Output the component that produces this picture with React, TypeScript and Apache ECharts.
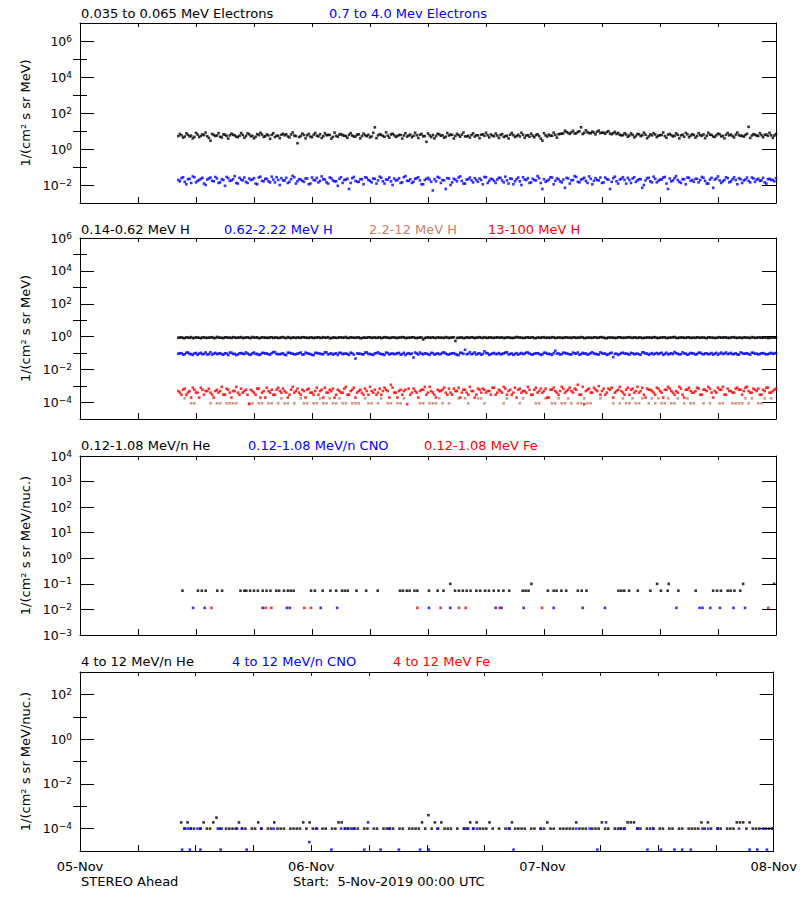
import React, { useEffect, useRef } from 'react';
import * as echarts from 'echarts';

const _ = null;

// ---- time axis (hours since 05-Nov-2019 00:00 UTC) ----
const dayLabels = ['05-Nov', '06-Nov', '07-Nov', '08-Nov'];
const gridStartHour = 10 + 10 / 60; // first sample of the regular series
const gridStepHour = 1 / 3;          // 20 minutes between samples of one half
// dense series are 10-minute data, stored as two interleaved halves:
// "A" samples at hh:10/:30/:50, "B" samples 10 minutes later.

// ---- panel 1: electrons ----
const elecLowA = [
  5.2, 5.8, 4.9, 6.1, 5.5, 4.7, 6.3, 5.4, 5.9, 5.1, 2.9, 6.0, 5.6, 4.8, 6.4, 5.3, 5.7, 6.2, 4.9, 5.5,
  6.0, 5.2, 6.6, 5.4, 4.8, 5.9, 6.3, 5.1, 5.7, 6.1, 4.6, 5.5, 6.2, 5.8, 5.0, 6.4, 5.6, 2.1, 5.3, 6.0,
  5.7, 4.9, 6.2, 5.5, 6.6, 5.1, 5.8, 6.0, 4.7, 5.4, 6.3, 5.9, 5.2, 6.1, 5.6, 4.9, 6.5, 5.3, 5.8, 6.2,
  5.0, 16, 5.7, 6.1, 4.8, 5.5, 6.4, 5.9, 5.2, 6.0, 5.6, 4.9, 6.3, 5.4, 5.8, 6.2, 5.1, 2.5, 5.7, 6.0,
  5.3, 6.5, 5.8, 4.8, 5.6, 6.1, 5.2, 5.9, 6.3, 5.0, 5.5, 6.0, 4.9, 5.7, 6.2, 5.4, 5.8, 6.4, 5.1, 5.6,
  6.0, 4.7, 5.5, 6.2, 5.9, 5.3, 5.0, 6.1, 5.6, 4.8, 5.4, 6.0, 5.2, 2.9, 5.7, 6.3, 5.5, 6.1, 6.6, 7.0,
  10.4, 7.8, 8.4, 7.3, 8.9, 16, 7.9, 8.6, 7.5, 8.2, 9.1, 7.7, 8.0, 8.8, 7.2, 7.6, 6.8, 6.2, 5.9, 6.4,
  5.6, 6.1, 5.3, 6.6, 5.8, 6.2, 5.0, 5.7, 6.4, 5.5, 6.0, 5.2, 6.3, 5.9, 5.4, 6.1, 5.7, 4.8, 6.5, 5.6,
  6.0, 5.3, 5.9, 6.4, 5.5, 6.2, 4.9, 5.8, 6.6, 5.4, 6.1, 5.7, 5.2, 6.3, 5.9, 5.5, 6.0, 17, 5.6, 6.2,
  5.3, 5.9, 6.1, 5.4, 5.8, 5.6,
];
const elecLowB = [
  6.8, 4.3, 7.4, 5.0, 3.9, 7.9, 4.6, 6.5, 8.2, 4.1, 6.9, 5.3, 7.6, 4.4, 6.2, 3.8, 7.1, 5.7, 4.5, 7.7,
  4.2, 7.3, 5.1, 3.9, 6.8, 8.0, 4.7, 6.4, 3.7, 7.5, 5.4, 4.0, 7.0, 6.6, 4.4, 8.3, 5.2, 4.6, 7.2, 3.9,
  6.9, 4.5, 7.8, 5.0, 4.1, 7.4, 6.1, 3.8, 8.1, 4.8, 6.7, 5.5, 4.2, 7.6, 4.9, 6.3, 3.9, 7.2, 5.1, 4.4,
  7.9, 4.0, 6.6, 5.3, 8.4, 4.3, 7.1, 4.7, 6.0, 3.8, 7.5, 5.6, 4.5, 8.0, 4.1, 6.8, 5.2, 7.3, 4.6, 3.9,
  7.0, 5.4, 4.2, 7.7, 6.3, 3.8, 6.9, 4.8, 8.2, 5.0, 4.3, 7.4, 5.8, 4.0, 6.5, 7.9, 4.4, 5.6, 7.2, 4.1,
  6.7, 5.1, 3.9, 7.8, 4.6, 6.2, 8.0, 4.2, 5.9, 7.1, 4.5, 6.6, 3.8, 7.5, 4.9, 5.5, 8.1, 4.3, 6.9, 7.4,
  8.8, 6.9, 10.2, 7.4, 9.6, 6.8, 11.0, 7.7, 9.3, 6.5, 10.5, 8.1, 7.0, 9.8, 6.6, 8.9, 7.8, 5.7, 7.5, 4.8,
  7.3, 4.4, 6.8, 5.2, 8.1, 4.0, 6.5, 7.6, 4.6, 5.9, 8.3, 4.2, 6.9, 5.0, 7.4, 3.9, 6.2, 7.8, 4.5, 6.6,
  4.3, 7.5, 5.4, 4.0, 8.0, 6.1, 4.7, 7.2, 5.0, 3.9, 7.7, 6.4, 4.4, 8.2, 5.3, 4.8, 7.0, 4.1, 6.7, 5.5,
  7.6, 4.5, 6.3, 7.9, 4.2, 6.8,
];
const elecHighA = [
  .019, .024, .015, .021, .013, .027, .017, .022, .012, .020, .026, .016, .023, .014, .019, .028, .017, .021, .013, .025,
  .018, .015, .023, .020, .012, .026, .017, .022, .016, .029, .014, .019, .024, .018, .013, .021, .027, .016, .020, .015,
  .023, .012, .019, .025, .017, .021, .014, .026, .018, .016, .022, .013, .020, .006, .024, .017, .015, .021, .027, .019,
  .014, .022, .018, .025, .012, .020, .016, .023, .019, .013, .027, .017, .021, .015, .024, .018, .011, .022, .020, .005,
  .016, .025, .019, .006, .023, .014, .020, .026, .017, .012, .021, .018, .024, .015, .019, .028, .013, .022, .017, .020,
  .025, .014, .018, .023, .011, .021, .016, .027, .019, .013, .022, .018, .024, .006, .015, .020, .026, .017, .021, .014,
  .007, .023, .018, .031, .015, .020, .025, .013, .022, .017, .019, .026, .014, .021, .006, .024, .016, .020, .027, .012,
  .019, .023, .015, .021, .007, .018, .025, .014, .022, .017, .020, .028, .006, .016, .024, .019, .013, .021, .026, .017,
  .015, .022, .019, .025, .012, .020, .007, .023, .018, .016, .027, .014, .021, .019, .024, .013, .020, .017, .026, .015,
  .022, .018, .014, .021, .019, .016,
];
const elecHighB = [
  .016, .027, .011, .022, .030, .014, .019, .025, .010, .023, .017, .028, .013, .021, .009, .024, .018, .031, .012, .020,
  .026, .013, .019, .024, .011, .029, .016, .022, .014, .020, .027, .010, .018, .025, .015, .032, .012, .021, .017, .023,
  .011, .026, .018, .014, .030, .020, .012, .024, .016, .009, .027, .019, .022, .013, .028, .015, .021, .011, .025, .017,
  .023, .012, .029, .016, .020, .026, .010, .018, .024, .014, .031, .017, .013, .022, .027, .011, .019, .025, .015, .021,
  .028, .013, .018, .024, .010, .022, .016, .030, .012, .020, .026, .014, .019, .023, .011, .027, .017, .021, .013, .025,
  .018, .029, .012, .022, .016, .026, .010, .020, .024, .014, .019, .031, .013, .021, .017, .027, .011, .023, .016, .020,
  .025, .012, .019, .028, .014, .022, .017, .030, .011, .024, .018, .013, .026, .020, .015, .029, .012, .022, .019, .025,
  .013, .027, .018, .021, .010, .024, .016, .029, .014, .020, .026, .012, .023, .018, .031, .015, .021, .011, .025, .019,
  .022, .014, .028, .017, .012, .025, .020, .030, .013, .019, .024, .016, .027, .011, .021, .018, .026, .014, .023, .020,
  .017, .025, .012, .022, .019, .024,
];

// ---- panel 2: protons ----
const hLowA = [
  .87, .92, .83, .89, .95, .85, .88, .81, .93, .86, .90, .84, .97, .87, .82, .91, .88, .94, .85, .89,
  .83, .90, .86, .96, .88, .81, .92, .87, .85, .93, .89, .84, .91, .86, .95, .82, .88, .90, .85, .93,
  .87, .91, .83, .89, .86, .94, .88, .82, .90, .85, .92, .87, .96, .84, .89, .86, .91, .83, .88, .93,
  .85, .90, .87, .82, .94, .88, .86, .91, .84, .89, .92, .85, .87, .93, .83, .90, .68, .88, .86, .92,
  .84, .89, .87, .95, .83, .90, .55, .86, .91, .85, .88, .93, .82, .89, .87, .94, .84, .90, .86, .92,
  .88, .83, .91, .87, .85, .96, .89, .84, .90, .86, .93, .82, .88, .91, .85, .87, .94, .83, .89, .86,
  .92, .87, .84, .90, .88, .95, .83, .89, .86, .91, .85, .93, .87, .82, .90, .88, .84, .92, .86, .89,
  .94, .85, .88, .91, .83, .87, .90, .86, .93, .84, .89, .92, .85, .88, .96, .83, .90, .87, .91, .84,
  .88, .93, .86, .89, .82, .91, .87, .85, .94, .88, .90, .84, .92, .86, .89, .83, .91, .87, .95, .85,
  .89, .86, .92, .84, .90, .88,
];
const hLowB = [
  .89, .84, .91, .86, .82, .93, .87, .90, .85, .88, .94, .83, .89, .86, .92, .87, .84, .90, .88, .95,
  .86, .91, .83, .88, .93, .85, .89, .87, .92, .84, .90, .86, .95, .82, .88, .91, .85, .89, .93, .87,
  .84, .90, .88, .92, .85, .87, .94, .83, .89, .86, .91, .88, .84, .93, .87, .90, .82, .89, .86, .92,
  .88, .85, .93, .87, .90, .84, .91, .86, .89, .95, .83, .88, .92, .85, .87, .90, .84, .93, .88, .86,
  .91, .87, .84, .90, .88, .93, .85, .89, .82, .92, .86, .90, .88, .94, .84, .87, .91, .85, .89, .87,
  .93, .86, .90, .84, .88, .91, .87, .85, .92, .89, .83, .90, .86, .94, .88, .85, .91, .87, .89, .84,
  .90, .88, .93, .85, .87, .91, .84, .89, .86, .92, .88, .95, .83, .90, .87, .85, .93, .88, .86, .91,
  .87, .92, .84, .89, .86, .90, .88, .94, .85, .87, .91, .83, .89, .93, .86, .88, .90, .85, .92, .87,
  .85, .89, .91, .86, .93, .88, .84, .90, .87, .92, .86, .89, .94, .85, .88, .91, .87, .83, .90, .88,
  .92, .87, .89, .85, .91, .88,
];
const hMidA = [
  .092, .10, .085, .11, .088, .097, .079, .105, .091, .083, .115, .094, .087, .10, .081, .096, .108, .089, .076, .099,
  .093, .112, .084, .098, .090, .078, .104, .095, .086, .101, .117, .088, .092, .080, .107, .097, .085, .094, .11, .083,
  .099, .089, .076, .103, .094, .087, .112, .091, .082, .098, .106, .088, .095, .079, .10, .047, .093, .086, .109, .090,
  .084, .097, .113, .089, .078, .102, .093, .087, .099, .081, .105, .092, .088, .055, .096, .11, .085, .094, .08, .101,
  .091, .087, .107, .095, .083, .099, .089, .076, .104, .16, .092, .086, .111, .094, .081, .13, .098, .088, .103, .090,
  .085, .096, .114, .089, .078, .101, .093, .087, .108, .095, .082, .099, .091, .086, .106, .092, .079, .14, .097, .088,
  .103, .091, .084, .098, .11, .089, .094, .081, .102, .096, .087, .113, .092, .079, .100, .058, .093, .088, .107, .095,
  .082, .098, .091, .086, .112, .094, .080, .101, .093, .088, .106, .090, .084, .099, .117, .092, .087, .096, .079, .103,
  .094, .089, .108, .085, .097, .091, .082, .104, .095, .088, .11, .093, .086, .099, .081, .102, .094, .089, .107, .091,
  .085, .098, .092, .087, .104, .095,
];
const hMidB = [
  .098, .083, .107, .090, .078, .102, .094, .086, .111, .089, .081, .104, .095, .087, .099, .076, .108, .092, .085, .101,
  .088, .096, .079, .110, .091, .084, .103, .097, .082, .114, .090, .086, .100, .077, .106, .093, .088, .098, .083, .109,
  .092, .080, .105, .096, .087, .112, .084, .099, .091, .078, .103, .094, .089, .107, .081, .097, .093, .085, .111, .090,
  .079, .101, .094, .086, .108, .083, .096, .091, .104, .088, .077, .100, .095, .110, .084, .092, .099, .087, .105, .082,
  .097, .089, .112, .085, .093, .100, .080, .106, .091, .087, .115, .094, .083, .098, .090, .104, .079, .096, .088, .102,
  .091, .108, .084, .097, .089, .081, .103, .095, .110, .086, .093, .099, .078, .105, .090, .087, .101, .094, .083, .107,
  .096, .085, .109, .092, .080, .104, .097, .088, .113, .090, .083, .100, .095, .086, .106, .091, .079, .102, .094, .089,
  .105, .087, .094, .081, .110, .096, .090, .085, .103, .098, .079, .107, .092, .088, .101, .084, .113, .095, .089, .099,
  .083, .106, .091, .097, .086, .102, .093, .080, .109, .095, .088, .104, .090, .085, .111, .092, .098, .082, .105, .094,
  .089, .101, .086, .096, .092, .103,
];
const hMid2 = [
  _, _, 1.8e-4, _, 9e-5, 9e-5, _, _, _, _,
  9e-5, _, 9e-5, 9e-5, _, 9e-5, 9e-5, 9e-5, 9e-5, _,
  _, _, 9e-5, 9e-5, _, 9e-5, 9e-5, _, 9e-5, 9e-5,
  _, 9e-5, 1.8e-4, 9e-5, 9e-5, _, 9e-5, _, 1.8e-4, 9e-5,
  9e-5, _, 9e-5, 9e-5, 1.8e-4, 9e-5, 9e-5, 1.8e-4, 9e-5, 9e-5,
  1.8e-4, 9e-5, 9e-5, _, 9e-5, 9e-5, 9e-5, _, 1.8e-4, 9e-5,
  9e-5, _, 9e-5, 1.8e-4, _, 9e-5, 9e-5, _, 9e-5, 9e-5,
  1.8e-4, _, _, _, _, 9e-5, 9e-5, _, 9e-5, 9e-5,
  9e-5, 1.8e-4, 9e-5, _, 9e-5, _, _, 1.8e-4, _, 1.8e-4,
  9e-5, _, _, 1.8e-4, 1.8e-4, 9e-5, _, _, _, _,
  _, 9e-5, 1.8e-4, _, _, _, 9e-5, 1.8e-4, _, _,
  _, 9e-5, 9e-5, _, 1.8e-4, _, 9e-5, 9e-5, 1.8e-4, 9e-5,
  9e-5, 1.8e-4, 9e-5, _, 9e-5, 9e-5, 1.8e-4, 9e-5, 9e-5, _,
  _, 1.8e-4, _, _, _, 9e-5, _, 9e-5, 1.8e-4, 9e-5,
  9e-5, 1.8e-4, 9e-5, 9e-5, 1.8e-4, _, 9e-5, 1.8e-4, 9e-5, 1.8e-4,
  9e-5, 9e-5, 1.8e-4, 9e-5, 9e-5, 1.8e-4, _, 9e-5, 1.8e-4, 9e-5,
  9e-5, _, _, 9e-5, _, 9e-5, _, _, 9e-5, 9e-5,
  _, _, 9e-5, 9e-5, 9e-5, 9e-5, 1.8e-4, 9e-5, 1.8e-4, _,
  9e-5, 9e-5, 1.8e-4, _, 1.8e-4, _,
];
const hHighA = [
  5e-4, 3e-4, 7e-4, 4e-4, 2e-4, 6e-4, 4e-4, 8e-4, 3e-4, 5e-4, 4e-4, 2e-4, 6e-4, 5e-4, 3e-4, 7e-4, 4e-4, 5e-4, 9e-4, 3e-4,
  4e-4, 6e-4, 8e-5, 5e-4, 3e-4, 7e-4, 4e-4, 2e-4, 5e-4, 6e-4, 3e-4, 8e-4, 4e-4, 5e-4, 2e-4, 6e-4, 4e-4, 7e-4, 3e-4, 5e-4,
  6e-4, 4e-4, 3e-4, 8e-4, 5e-4, 2e-4, 4e-4, 6e-4, 7e-4, 3e-4, 5e-4, 4e-4, 9e-4, 3e-4, 6e-4, 2e-4, 5e-4, 4e-4, 7e-4, 3e-4,
  5e-4, 6e-4, 4e-4, 3e-4, 8e-4, 5e-4, 1.2e-3, 4e-4, 2e-4, 6e-4, 5e-4, 8e-5, 3e-4, 7e-4, 4e-4, 5e-4, 6e-4, 3e-4, 9e-4, 4e-4,
  2e-4, 5e-4, 6e-4, 4e-4, 7e-4, 3e-4, 5e-4, 8e-4, 4e-4, 6e-4, 3e-4, 5e-4, 2e-4, 7e-4, 4e-4, 6e-4, 5e-4, 3e-4, 8e-4, 4e-4,
  5e-4, 9e-4, 3e-4, 6e-4, 4e-4, 2e-4, 7e-4, 5e-4, 4e-4, 6e-4, 3e-4, 8e-4, 5e-4, 4e-4, 7e-4, 2e-4, 6e-4, 5e-4, 3e-4, 9e-4,
  4e-4, 6e-4, 5e-4, 7e-4, 1.2e-3, 3e-4, 8e-5, 6e-4, 4e-4, 8e-4, 5e-4, 3e-4, 7e-4, 4e-4, 6e-4, 2e-4, 5e-4, 9e-4, 4e-4, 6e-4,
  3e-4, 7e-4, 5e-4, 4e-4, 8e-4, 2e-4, 6e-4, 5e-4, 3e-4, 7e-4, 4e-4, 6e-4, 9e-4, 5e-4, 3e-4, 4e-4, 7e-4, 2e-4, 6e-4, 5e-4,
  4e-4, 8e-4, 3e-4, 6e-4, 5e-4, 7e-4, 2e-4, 4e-4, 6e-4, 9e-4, 3e-4, 5e-4, 4e-4, 7e-4, 6e-4, 3e-4, 8e-4, 5e-4, 4e-4, 6e-4,
  7e-4, 3e-4, 5e-4, 8e-4, 4e-4, 6e-4,
];
const hHighB = [
  4e-4, 6e-4, 3e-4, 5e-4, 8e-4, 4e-4, 2e-4, 6e-4, 5e-4, 7e-4, 3e-4, 5e-4, 4e-4, 9e-4, 3e-4, 6e-4, 2e-4, 5e-4, 4e-4, 7e-4,
  5e-4, 3e-4, 6e-4, 4e-4, 7e-4, 2e-4, 5e-4, 8e-4, 4e-4, 3e-4, 6e-4, 5e-4, 7e-4, 4e-4, 3e-4, 9e-4, 5e-4, 4e-4, 6e-4, 2e-4,
  7e-4, 4e-4, 5e-4, 3e-4, 6e-4, 8e-4, 4e-4, 5e-4, 2e-4, 6e-4, 4e-4, 7e-4, 3e-4, 5e-4, 8e-4, 4e-4, 6e-4, 3e-4, 5e-4, 9e-4,
  4e-4, 3e-4, 7e-4, 5e-4, 6e-4, 2e-4, 8e-4, 4e-4, 5e-4, 3e-4, 6e-4, 7e-4, 4e-4, 5e-4, 2e-4, 6e-4, 9e-4, 4e-4, 5e-4, 3e-4,
  6e-4, 5e-4, 8e-4, 3e-4, 4e-4, 7e-4, 5e-4, 2e-4, 6e-4, 4e-4, 9e-4, 5e-4, 3e-4, 6e-4, 7e-4, 4e-4, 5e-4, 8e-4, 3e-4, 6e-4,
  4e-4, 7e-4, 5e-4, 3e-4, 8e-4, 6e-4, 4e-4, 5e-4, 9e-4, 3e-4, 6e-4, 4e-4, 7e-4, 5e-4, 2e-4, 6e-4, 8e-4, 4e-4, 5e-4, 7e-4,
  5e-4, 8e-4, 4e-4, 6e-4, 3e-4, 9e-4, 5e-4, 7e-4, 4e-4, 6e-4, 1e-3, 5e-4, 3e-4, 7e-4, 8e-4, 4e-4, 6e-4, 5e-4, 3e-4, 8e-4,
  6e-4, 4e-4, 9e-4, 5e-4, 3e-4, 7e-4, 6e-4, 4e-4, 8e-4, 5e-4, 2e-4, 6e-4, 7e-4, 4e-4, 5e-4, 9e-4, 3e-4, 6e-4, 8e-4, 4e-4,
  5e-4, 7e-4, 3e-4, 6e-4, 9e-4, 4e-4, 5e-4, 8e-4, 6e-4, 3e-4, 7e-4, 5e-4, 4e-4, 8e-4, 6e-4, 5e-4, 9e-4, 4e-4, 7e-4, 5e-4,
  3e-4, 6e-4, 8e-4, 4e-4, 5e-4, 7e-4,
];

// ---- panel 3: 0.12-1.08 MeV/n heavy ions, [hour, value] ----
const heLow = [
  [10.6, .054], [12.2, .054], [12.6, .054], [13.0, .054], [14.2, .054], [14.7, .054],
  [16.6, .054], [17.0, .054], [17.2, .054], [17.6, .054], [18.0, .054], [18.4, .054], [18.9, .054],
  [19.3, .054], [19.7, .054], [20.3, .054], [20.6, .054], [21.1, .054], [21.5, .054], [21.8, .054], [22.1, .054],
  [23.9, .054], [24.3, .054], [25.1, .054], [25.9, .054], [26.5, .054], [27.1, .054], [27.4, .054], [27.7, .054],
  [28.6, .054], [29.6, .054], [30.8, .054], [33.1, .054], [33.4, .054], [33.8, .054], [34.1, .054], [34.6, .054],
  [34.9, .054], [36.1, .054], [37.0, .054], [37.6, .054], [38.3, .1], [38.8, .054], [39.2, .054], [39.6, .054],
  [40.0, .054], [40.4, .054], [41.0, .054], [41.4, .054], [41.9, .054], [42.3, .054], [42.8, .054], [43.3, .054],
  [43.8, .054], [44.4, .054], [45.8, .054], [46.1, .054], [46.4, .054], [46.7, .1], [48.4, .054], [49.0, .054],
  [49.3, .054], [49.8, .054], [50.3, .054], [51.5, .054], [51.9, .054], [52.4, .054], [55.7, .054], [56.0, .054],
  [56.3, .054], [56.8, .054], [57.7, .054], [59.0, .054], [59.7, .1], [60.1, .054], [60.8, .054], [60.9, .1],
  [61.9, .054], [63.7, .054], [65.5, .054], [65.9, .054], [66.3, .054], [67.0, .054], [67.3, .054], [67.7, .054],
  [68.3, .054], [68.6, .1], [71.8, .1],
];
const cnoLow = [
  [11.7, .0115], [12.9, .0115], [18.9, .0115], [21.4, .0115], [21.7, .0115], [24.9, .0115], [26.6, .0115],
  [36.1, .0115], [38.3, .0115], [43.0, .0115], [43.6, .0115], [45.9, .0115], [49.0, .0115], [52.0, .0115],
  [54.3, .0115], [61.7, .0115], [64.1, .0115], [64.4, .0115], [65.2, .0115], [66.2, .0115], [67.6, .0115], [68.8, .0115],
];
const feLow = [
  [13.6, .0115], [19.2, .0115], [19.8, .0115], [23.2, .0115], [23.9, .0115], [34.9, .0115],
  [37.3, .0115], [39.2, .0115], [39.9, .0115], [43.4, .0115], [47.8, .0115], [71.2, .0115],
];

// ---- panel 4: 4-12 MeV/n heavy ions ----
const heHigh = [
  _, 1.9e-4, 1e-4, 1.9e-4, 1e-4, 1e-4, _, 1e-4, 1.9e-4, 1e-4,
  1e-4, 1.9e-4, 3.1e-4, 1e-4, _, 1e-4, 1e-4, 1e-4, 1e-4, 1.9e-4,
  1e-4, 1e-4, _, 1e-4, 1e-4, 1.9e-4, 1e-4, _, 1e-4, 1e-4,
  1.9e-4, 1e-4, 1e-4, 1e-4, _, 1e-4, 1e-4, 1e-4, 1e-4, 1.9e-4,
  1e-4, 1.9e-4, 1e-4, 1e-4, _, 1e-4, 1e-4, _, 1e-4, 1e-4,
  1.9e-4, 1.9e-4, 1e-4, 1e-4, 1e-4, 1e-4, 1e-4, _, 1e-4, 1e-4,
  _, 1e-4, 1e-4, _, 1e-4, 1e-4, 1e-4, 1e-4, _, 1e-4,
  1e-4, _, 1e-4, 1e-4, 1e-4, 1e-4, 1.9e-4, 1e-4, 4e-4, 1e-4,
  1.9e-4, 1e-4, 1.9e-4, 1e-4, 1e-4, 1e-4, _, 1e-4, _, 1e-4,
  1e-4, 1.9e-4, 1e-4, 1.9e-4, 1e-4, 1e-4, 1e-4, 1.9e-4, 1e-4, _,
  1e-4, _, 1e-4, 1e-4, 1.9e-4, 1e-4, 1e-4, 1e-4, 1e-4, _,
  1e-4, 1e-4, _, 1e-4, 1e-4, 1.9e-4, 1e-4, 1e-4, _, 1e-4,
  1e-4, 1e-4, 1e-4, 1e-4, 1.9e-4, 1e-4, 1e-4, 1e-4, _, 1e-4,
  1e-4, 1e-4, 1.9e-4, 1e-4, 1e-4, _, 1e-4, 1e-4, 1e-4, 1e-4,
  1.9e-4, 1.9e-4, 1.9e-4, 1e-4, 1e-4, _, 1e-4, 1e-4, 1e-4, _,
  1e-4, 1e-4, _, 1e-4, 1e-4, _, 1e-4, 1e-4, _, 1e-4,
  1e-4, 1e-4, 1e-4, 1.9e-4, 1e-4, 1.9e-4, 1e-4, _, 1e-4, 1e-4,
  _, 1e-4, 1e-4, 1e-4, 1.9e-4, 1.9e-4, 1.9e-4, 1e-4, 1.9e-4, 1e-4,
  1e-4, 1e-4, _, 1e-4, 1e-4, 1e-4,
];
const cnoHigh = [
  [10.6, 1.15e-5], [10.9, 1e-4], [11.2, 1e-4], [11.4, 1.15e-5], [11.5, 1e-4], [12.2, 1e-4], [12.5, 1e-4],
  [12.5, 1.15e-5], [14.3, 1e-4], [14.6, 1.15e-5], [14.7, 1e-4], [16.3, 1e-4], [16.8, 1e-4], [17.3, 1.15e-5],
  [18.8, 1e-4], [20.1, 1e-4], [23.8, 2.5e-5], [24.6, 1e-4], [26.1, 1.15e-5], [27.1, 1e-4], [27.5, 1e-4],
  [27.8, 1e-4], [28.4, 1e-4], [29.5, 1.15e-5], [29.9, 1.9e-4], [31.2, 1.15e-5], [32.1, 1e-4], [33.1, 1.15e-5],
  [35.3, 1.15e-5], [36.2, 1.15e-5], [37.1, 1e-4], [39.9, 1e-4], [40.3, 1e-4], [40.8, 1e-4], [41.2, 1e-4],
  [44.6, 1e-4], [45.0, 1.15e-5], [47.8, 1e-4], [51.5, 1e-4], [52.9, 1e-4], [53.7, 1.15e-5], [54.6, 1.9e-4],
  [56.1, 1e-4], [56.5, 1e-4], [57.9, 1e-4], [58.9, 1.15e-5], [59.5, 1e-4], [60.3, 1.15e-5], [61.7, 1.15e-5],
  [62.5, 1.15e-5], [63.4, 1.15e-5], [64.6, 1e-4], [65.2, 1e-4], [66.2, 1e-4], [68.4, 1e-4], [69.5, 1.15e-5],
  [70.3, 1.15e-5], [70.9, 1e-4], [71.3, 1.15e-5], [71.9, 1e-4],
];

// ---- axis ticks (decades) ----
const p1Major = [1e-2, 1, 1e2, 1e4, 1e6];
const p1Minor = [1e-1, 1e1, 1e3, 1e5];
const p2Major = [1e-4, 1e-2, 1, 1e2, 1e4, 1e6];
const p2Minor = [1e-3, 1e-1, 1e1, 1e3, 1e5];
const p3Major = [1e-3, 1e-2, 1e-1, 1, 1e1, 1e2, 1e3, 1e4];
const p3Minor: number[] = [];
const p4Major = [1e-4, 1e-2, 1, 1e2];
const p4Minor = [1e-3, 1e-1, 1e1];

const unitMeV = '1/(cm² s sr MeV)';
const unitNuc = '1/(cm² s sr MeV/nuc.)';

const BLACK = '#000000';
const BLUE = '#0000ff';
const RED = '#ff0000';
const BROWN = '#c98068';
const FONT = 'DejaVu Sans';

const panelTitles = [
  ['0.035 to 0.065 MeV Electrons', '0.7 to 4.0 Mev Electrons'],
  ['0.14-0.62 MeV H', '0.62-2.22 MeV H', '2.2-12 MeV H', '13-100 MeV H'],
  ['0.12-1.08 MeV/n He', '0.12-1.08 MeV/n CNO', '0.12-1.08 MeV Fe'],
  ['4 to 12 MeV/n He', '4 to 12 MeV/n CNO', '4 to 12 MeV Fe'],
];
const panelTitleColors = [
  [BLACK, BLUE],
  [BLACK, BLUE, BROWN, RED],
  [BLACK, BLUE, RED],
  [BLACK, BLUE, RED],
];

// layout (pixels)
const layout = [
  { top: 23, height: 180, min: 1e-3, max: 1e7, major: p1Major, minor: p1Minor, unit: unitMeV, titleY: 13, titleX: [81, 329] },
  { top: 238, height: 181, min: 1e-5, max: 1e6, major: p2Major, minor: p2Minor, unit: unitMeV, titleY: 229, titleX: [81, 224, 369, 488] },
  { top: 456, height: 179, min: 1e-3, max: 1e4, major: p3Major, minor: p3Minor, unit: unitNuc, titleY: 445, titleX: [81, 248, 424] },
  { top: 672, height: 179, min: 1e-5, max: 1e3, major: p4Major, minor: p4Minor, unit: unitNuc, titleY: 661, titleX: [81, 232, 393] },
];

function gridPoints(vals: (number | null)[]) {
  const out: number[][] = [];
  vals.forEach((v, i) => {
    if (v != null) out.push([gridStartHour + i * gridStepHour, v]);
  });
  return out;
}

function tenMinPoints(a: number[], b: number[]) {
  const out: number[][] = [];
  a.forEach((v, i) => {
    out.push([gridStartHour + i * gridStepHour, v]);
    if (b[i] != null) out.push([gridStartHour + (i + 0.5) * gridStepHour, b[i]]);
  });
  return out;
}

function supLabel(v: number) {
  const e = Math.round(Math.log10(v));
  return `{b|10}{e|${e < 0 ? '−' + -e : e}}`;
}

export default function App() {
  const ref = useRef<HTMLDivElement>(null);
  useEffect(() => {
    if (!ref.current) return;
    const chart = echarts.init(ref.current, null, { renderer: 'svg' });
    const grids: any[] = [];
    const xAxes: any[] = [];
    const yAxes: any[] = [];
    const titles: any[] = [];
    const lineStyle = { color: BLACK, width: 1 };

    layout.forEach((p, k) => {
      grids.push({ left: 80, right: 24, top: p.top, height: p.height });
      const xBase = {
        type: 'value', gridIndex: k, min: 0, max: 72, interval: 6,
        splitLine: { show: false },
        axisLine: { show: true, onZero: false, lineStyle },
      };
      xAxes.push({
        ...xBase, position: 'bottom',
        axisTick: { show: true, inside: true, length: 6, lineStyle },
        axisLabel: k === 3
          ? {
              show: true, customValues: [0, 24, 48, 72],
              formatter: (v: number) => dayLabels[Math.round(v / 24)],
              color: BLACK, fontFamily: FONT, fontSize: 13, margin: 9,
            }
          : { show: false },
      });
      xAxes.push({
        ...xBase, position: 'top',
        axisTick: { show: true, inside: true, length: 4, lineStyle },
        axisLabel: { show: false },
      });
      const yBase = { type: 'log', logBase: 10, gridIndex: k, min: p.min, max: p.max, splitLine: { show: false } };
      yAxes.push({
        ...yBase, position: 'left',
        axisLine: { show: true, onZero: false, lineStyle },
        axisTick: { show: true, inside: true, length: 14, customValues: p.major, lineStyle },
        axisLabel: {
          show: true, customValues: p.major, formatter: supLabel, margin: 8,
          rich: {
            b: { fontSize: 12.5, fontFamily: FONT, color: BLACK, lineHeight: 14 },
            e: { fontSize: 9, fontFamily: FONT, color: BLACK, lineHeight: 9, verticalAlign: 'top' },
          },
        },
        name: p.unit, nameLocation: 'middle', nameRotate: 90, nameGap: 40,
        nameTextStyle: { fontFamily: FONT, fontSize: 13, color: BLACK },
      });
      yAxes.push({
        ...yBase, position: 'left',
        axisLine: { show: false },
        axisTick: { show: p.minor.length > 0, inside: true, length: 7, customValues: p.minor, lineStyle },
        axisLabel: { show: false },
      });
      yAxes.push({
        ...yBase, position: 'right',
        axisLine: { show: true, onZero: false, lineStyle },
        axisTick: { show: true, inside: true, length: 14, customValues: p.major, lineStyle },
        axisLabel: { show: false },
      });
      yAxes.push({
        ...yBase, position: 'right',
        axisLine: { show: false },
        axisTick: { show: p.minor.length > 0, inside: true, length: 7, customValues: p.minor, lineStyle },
        axisLabel: { show: false },
      });
      panelTitles[k].forEach((t, j) => {
        titles.push({
          text: t, left: p.titleX[j], top: p.titleY - 7, padding: 0,
          textStyle: { color: panelTitleColors[k][j], fontFamily: FONT, fontSize: 13, fontWeight: 'normal', lineHeight: 14 },
        });
      });
    });
    titles.push({
      text: 'STEREO Ahead', left: 81, top: 874, padding: 0,
      textStyle: { color: BLACK, fontFamily: FONT, fontSize: 13, fontWeight: 'normal', lineHeight: 14 },
    });
    titles.push({
      text: 'Start:  5-Nov-2019 00:00 UTC', left: 293, top: 874, padding: 0,
      textStyle: { color: BLACK, fontFamily: FONT, fontSize: 13, fontWeight: 'normal', lineHeight: 14 },
    });

    const sc = (k: number, name: string, data: any[], color: string) => ({
      type: 'scatter', name, xAxisIndex: 2 * k, yAxisIndex: 4 * k, data,
      symbol: 'rect', symbolSize: 2.6, itemStyle: { color }, silent: true,
    });

    const series = [
      sc(0, panelTitles[0][0], tenMinPoints(elecLowA, elecLowB), BLACK),
      sc(0, panelTitles[0][1], tenMinPoints(elecHighA, elecHighB), BLUE),
      sc(1, panelTitles[1][0], tenMinPoints(hLowA, hLowB), BLACK),
      sc(1, panelTitles[1][1], tenMinPoints(hMidA, hMidB), BLUE),
      sc(1, panelTitles[1][2], gridPoints(hMid2), BROWN),
      sc(1, panelTitles[1][3], tenMinPoints(hHighA, hHighB), RED),
      sc(2, panelTitles[2][0], heLow, BLACK),
      sc(2, panelTitles[2][1], cnoLow, BLUE),
      sc(2, panelTitles[2][2], feLow, RED),
      sc(3, panelTitles[3][0], gridPoints(heHigh), BLACK),
      sc(3, panelTitles[3][1], cnoHigh, BLUE),
    ];

    chart.setOption({
      animation: false,
      backgroundColor: '#ffffff',
      textStyle: { fontFamily: FONT },
      title: titles,
      grid: grids,
      xAxis: xAxes,
      yAxis: yAxes,
      series,
    });
    return () => chart.dispose();
  }, []);
  return <div ref={ref} style={{ position: 'absolute', left: 0, top: 0, width: 800, height: 900 }} />;
}
